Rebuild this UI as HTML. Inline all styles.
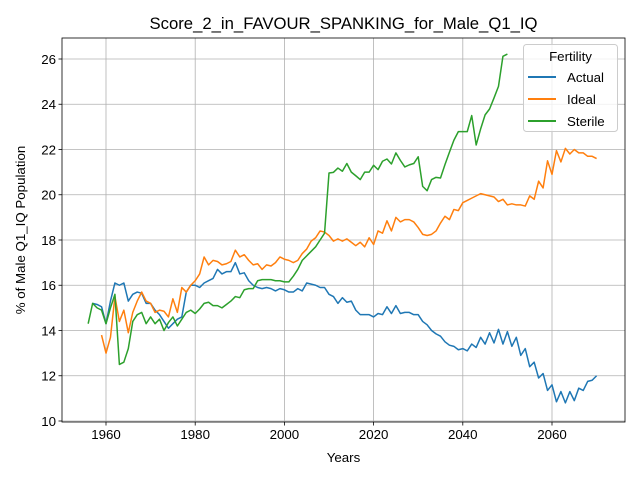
<!DOCTYPE html>
<html><head><meta charset="utf-8"><style>
body{margin:0;background:#fff}
svg{display:block;font-family:"Liberation Sans","DejaVu Sans",sans-serif}
</style></head><body>
<svg id="chart" width="640" height="480">
<rect x="0" y="0" width="640" height="480" fill="#fff"/>
<g id="grid"></g><g id="series"></g><g id="axes"></g>
<text x="343.5" y="29" text-anchor="middle" font-size="16.7">Score_2_in_FAVOUR_SPANKING_for_Male_Q1_IQ</text>
<text x="343.5" y="462" text-anchor="middle" font-size="13.3">Years</text>
<text transform="translate(25,230) rotate(-90)" text-anchor="middle" font-size="13.3">% of Male Q1_IQ Population</text>
<g>
<rect x="523.5" y="44.5" width="94" height="87" rx="3" fill="#fff" fill-opacity="0.8" stroke="#ccc"/>
<text x="570.5" y="61" text-anchor="middle" font-size="13.3">Fertility</text>
<line x1="528" y1="77" x2="556" y2="77" stroke="#1f77b4" stroke-width="2"/><text x="567" y="82" font-size="13.3">Actual</text>
<line x1="528" y1="99" x2="556" y2="99" stroke="#ff7f0e" stroke-width="2"/><text x="567" y="104" font-size="13.3">Ideal</text>
<line x1="528" y1="121" x2="556" y2="121" stroke="#2ca02c" stroke-width="2"/><text x="567" y="126" font-size="13.3">Sterile</text>
</g>
</svg>
<script>
const actualStart = 1957;
const actualValues = [15.2,15.15,15.05,14.3,15.3,16.1,16.0,16.1,15.3,15.6,15.7,15.65,15.2,15.2,14.9,14.7,14.4,14.1,14.3,14.5,14.6,15.7,16.0,16.0,15.9,16.1,16.2,16.3,16.7,16.5,16.6,16.6,17.0,16.5,16.55,16.2,16.0,15.9,15.85,15.9,15.85,15.75,15.85,15.8,15.7,15.7,15.85,15.75,16.1,16.05,16.0,15.9,15.9,15.6,15.5,15.2,15.45,15.25,15.3,14.9,14.7,14.7,14.7,14.6,14.75,14.7,15.05,14.75,15.1,14.75,14.8,14.8,14.7,14.7,14.4,14.25,14.0,13.85,13.75,13.5,13.35,13.3,13.15,13.2,13.1,13.4,13.25,13.7,13.4,13.9,13.45,14.05,13.4,13.95,13.3,13.7,12.9,13.2,12.4,12.6,11.9,12.1,11.35,11.6,10.85,11.3,10.8,11.3,10.9,11.45,11.35,11.75,11.8,12.0];
const idealStart = 1959;
const idealValues = [13.8,13.0,13.7,15.5,14.4,14.9,13.9,14.8,15.3,15.7,15.3,15.2,14.8,14.9,14.85,14.6,15.4,14.8,15.9,15.7,16.0,16.2,16.5,17.25,16.9,17.1,17.05,16.9,16.95,17.05,17.55,17.25,17.35,17.1,16.9,16.95,16.7,16.9,16.85,17.0,17.25,17.15,17.1,17.0,17.1,17.4,17.6,17.95,18.1,18.4,18.35,18.2,17.95,18.05,17.95,18.05,17.9,17.75,17.9,17.7,18.1,17.8,18.4,18.3,18.85,18.4,19.0,18.8,18.9,18.9,18.8,18.55,18.25,18.2,18.25,18.4,18.75,19.05,18.9,19.35,19.3,19.65,19.75,19.85,19.95,20.05,20.0,19.95,19.9,19.7,19.8,19.55,19.6,19.55,19.55,19.5,19.95,19.8,20.6,20.3,21.5,20.9,21.95,21.45,22.05,21.8,22.0,21.85,21.85,21.7,21.7,21.6];
const sterileStart = 1956;
const sterileValues = [14.3,15.2,15.0,14.9,14.3,15.0,15.6,12.5,12.6,13.2,14.4,14.7,14.8,14.3,14.6,14.3,14.5,14.0,14.35,14.6,14.2,14.5,14.8,14.9,14.75,14.95,15.2,15.25,15.1,15.1,15.0,15.15,15.3,15.5,15.45,15.8,15.85,15.85,16.2,16.25,16.25,16.25,16.2,16.2,16.15,16.15,16.4,16.7,17.1,17.3,17.5,17.7,18.0,18.3,20.96,20.99,21.18,21.04,21.38,21.0,20.84,20.67,21.0,21.0,21.3,21.11,21.48,21.58,21.36,21.85,21.52,21.23,21.32,21.38,21.68,20.37,20.18,20.67,20.77,20.74,21.33,21.88,22.41,22.79,22.79,22.79,23.5,22.2,22.91,23.53,23.79,24.28,24.79,26.12,26.22];
const xTicks = [1960,1980,2000,2020,2040,2060];
const yTicks = [10,12,14,16,18,20,22,24,26];

const NS = 'http://www.w3.org/2000/svg';
const L = 62, R = 625, T = 38, B = 422;
function xScale(v){ return 61.4 + (v - 1950) * 4.46; }
function yScale(v){ return 421 - (v - 10) * 22.625; }
function mk(tag, attrs, parent){ const e = document.createElementNS(NS, tag); for (const k in attrs) e.setAttribute(k, attrs[k]); parent.appendChild(e); return e; }
const grid = document.getElementById('grid'), axes = document.getElementById('axes'), series = document.getElementById('series');
xTicks.forEach(t => {
  const x = xScale(t);
  const g = mk('line', {x1:x, x2:x, y1:T, y2:B, stroke:'#b0b0b0', 'stroke-width':0.8}, grid);
  
  
  mk('line', {x1:x, x2:x, y1:B, y2:B+3.5, stroke:'#000', 'stroke-width':0.8}, axes);
  const tx = mk('text', {x:x, y:B+17, 'text-anchor':'middle', 'font-size':13.3}, axes);
  tx.textContent = t;
  
  
});
yTicks.forEach(t => {
  const y = yScale(t);
  const g = mk('line', {x1:L, x2:R, y1:y, y2:y, stroke:'#b0b0b0', 'stroke-width':0.8}, grid);
  
  
  mk('line', {x1:L-3.5, x2:L, y1:y, y2:y, stroke:'#000', 'stroke-width':0.8}, axes);
  const tx = mk('text', {x:L-6, y:y+4.8, 'text-anchor':'end', 'font-size':13.3}, axes);
  tx.textContent = t;
  
  
});
const frame = mk('rect', {x:L, y:T, width:R-L, height:B-T, fill:'none', stroke:'#000', 'stroke-width':0.8}, axes);


function drawLine(start, vals, color, name){
  const d = vals.map((v,i) => (i ? 'L' : 'M') + xScale(start + i).toFixed(2) + ',' + yScale(v).toFixed(2)).join('');
  const p = mk('path', {d:d, fill:'none', stroke:color, 'stroke-width':1.5, 'stroke-linejoin':'round'}, series);
  
  
}
drawLine(actualStart, actualValues, '#1f77b4', 'actual-line');
drawLine(idealStart, idealValues, '#ff7f0e', 'ideal-line');
drawLine(sterileStart, sterileValues, '#2ca02c', 'sterile-line');
</script>
</body></html>
